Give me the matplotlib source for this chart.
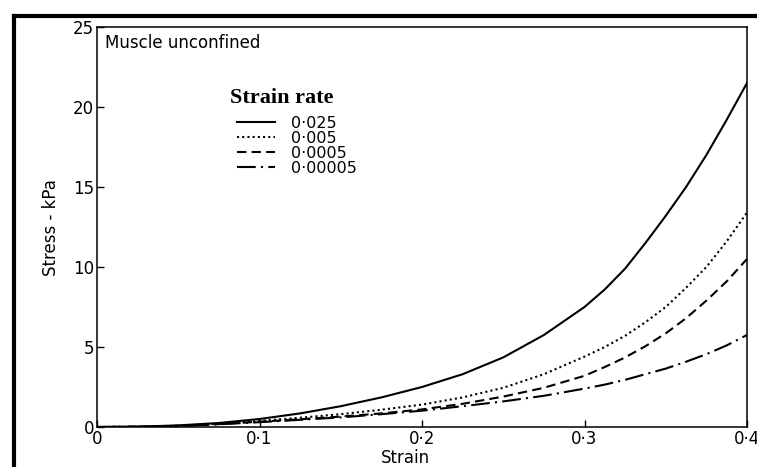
import numpy as np
import matplotlib.pyplot as plt
from matplotlib.lines import Line2D

# stress-strain curves, muscle unconfined, four strain rates
strain = [0, 0.025, 0.05, 0.075, 0.1, 0.125, 0.15, 0.175, 0.2,
          0.225, 0.25, 0.275, 0.3, 0.3125, 0.325, 0.3375, 0.35,
          0.3625, 0.375, 0.3875, 0.4]
stress_0025 = [0, 0.02, 0.1, 0.25, 0.5, 0.85, 1.3, 1.85, 2.5,
               3.3, 4.35, 5.75, 7.5, 8.6, 9.9, 11.5, 13.2,
               15.0, 17.0, 19.2, 21.5]
stress_0005 = [0, 0.02, 0.08, 0.2, 0.38, 0.58, 0.8, 1.08, 1.4,
               1.85, 2.45, 3.3, 4.4, 5.0, 5.7, 6.55, 7.5,
               8.7, 10.0, 11.6, 13.4]
stress_00005 = [0, 0.02, 0.07, 0.18, 0.33, 0.48, 0.65, 0.85, 1.1,
                1.45, 1.9, 2.45, 3.2, 3.75, 4.35, 5.05, 5.85,
                6.8, 7.9, 9.1, 10.5]
stress_000005 = [0, 0.02, 0.07, 0.17, 0.3, 0.45, 0.6, 0.8, 1.02,
                 1.3, 1.6, 1.95, 2.4, 2.65, 2.95, 3.3, 3.65,
                 4.08, 4.55, 5.1, 5.75]

rate_labels = ['0·025', '0·005', '0·0005', '0·00005']
xticks = [0, 0.1, 0.2, 0.3, 0.4]
xtick_labels = ['0', '0·1', '0·2', '0·3', '0·4']
yticks = [0, 5, 10, 15, 20, 25]

plt.rcParams['font.family'] = ['DejaVu Sans']

fig = plt.figure(figsize=(7.57, 4.67), dpi=100)
ax = fig.add_axes([97 / 757, 1 - 427 / 467, 650 / 757, 400 / 467])

lw = 1.5
ax.plot(strain, stress_0025, color='black', lw=lw, linestyle='-', label=rate_labels[0])
ax.plot(strain, stress_0005, color='black', lw=lw, linestyle=(0, (1, 1.5)), label=rate_labels[1])
ax.plot(strain, stress_00005, color='black', lw=lw, linestyle=(0, (4.5, 2.5)), label=rate_labels[2])
ax.plot(strain, stress_000005, color='black', lw=lw, linestyle=(0, (9, 2.5, 1, 2.5)), label=rate_labels[3])

ax.set_xlim(0, 0.4)
ax.set_ylim(0, 25)
ax.set_xticks(xticks)
ax.set_xticklabels(xtick_labels)
ax.set_yticks(yticks)
ax.tick_params(direction='in', length=5, width=1, labelsize=12, pad=2, color='black')
for s in ax.spines.values():
    s.set_linewidth(1.1)

ax.set_xlabel('Strain', fontsize=12)
ax.xaxis.set_label_coords(0.475, -0.055)
ax.set_ylabel('Stress - kPa', fontsize=12)
ax.yaxis.set_label_coords(-0.057, 0.4975)

ax.text(0.0123, 0.96, 'Muscle unconfined', transform=ax.transAxes,
        fontsize=12, ha='left', va='center')
ax.text(0.2046, 0.81, 'Strain rate', transform=ax.transAxes,
        fontsize=16, fontweight='bold', family='Liberation Serif',
        ha='left', va='baseline')

leg = ax.legend(loc='upper left', bbox_to_anchor=(0.2154, 0.778), frameon=False,
                fontsize=11.5, borderpad=0, borderaxespad=0, handlelength=2.4,
                handletextpad=1.0, labelspacing=0)

# heavy frame line around the page
fig.add_artist(Line2D([13.5 / 757, 13.5 / 757], [-0.05, 1 - 15.5 / 467],
                      transform=fig.transFigure, color='black', lw=3, solid_capstyle='projecting'))
fig.add_artist(Line2D([13.5 / 757, 1.05], [1 - 15.5 / 467, 1 - 15.5 / 467],
                      transform=fig.transFigure, color='black', lw=3, solid_capstyle='projecting'))

fig.savefig('out.png', dpi=100)
